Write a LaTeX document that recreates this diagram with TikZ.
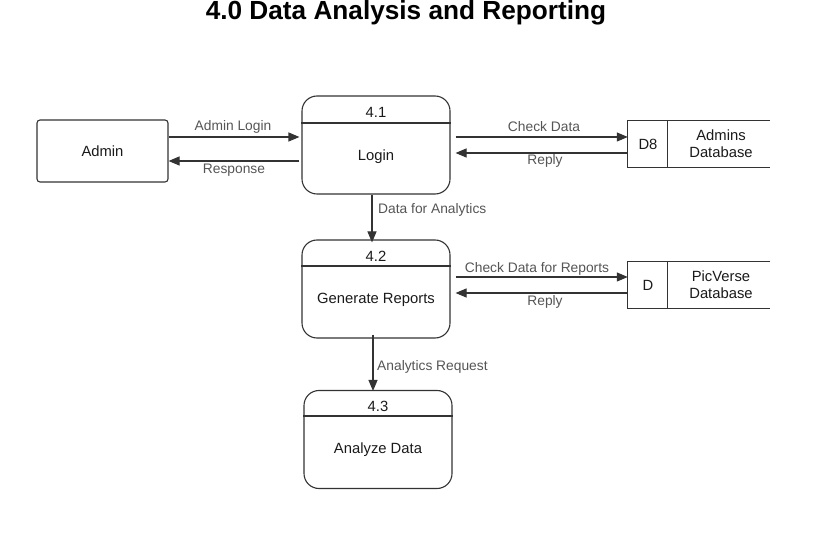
\documentclass[tikz,border=0pt]{standalone}
\usepackage{fontspec}
\setmainfont{Liberation Sans}
\usetikzlibrary{arrows.meta}
\definecolor{lineC}{HTML}{333333}
\definecolor{labC}{HTML}{555555}
\definecolor{txtC}{HTML}{1A1A1A}
\tikzset{
  proc/.style={draw=lineC,line width=1.1pt,rounded corners=15pt,minimum width=148pt,minimum height=98pt,inner sep=0pt},
  ent/.style={draw=lineC,line width=1.1pt,rounded corners=3pt,minimum width=131pt,minimum height=62pt,inner sep=0pt,font=\fontsize{14.8}{17}\selectfont,text=txtC},
  store/.style={minimum width=142pt,minimum height=46pt,inner sep=0pt},
  ptext/.style={font=\fontsize{14.8}{17}\selectfont,text=txtC,align=center,inner sep=0pt},
  lab/.style={font=\fontsize{13.8}{16}\selectfont,text=labC,inner sep=0pt},
  flow/.style={draw=lineC,line width=1.1pt,-{Triangle[length=11pt,width=9pt]}},
  div/.style={draw=lineC,line width=1.1pt}
}
\begin{document}
\begin{tikzpicture}[x=1pt,y=-1pt]
\useasboundingbox (0,0) rectangle (819,534);
\node[font=\bfseries\fontsize{26.2}{30}\selectfont,anchor=base,inner sep=0pt] (title) at (406,19.5) {4.0 Data Analysis and Reporting};

% Admin
\node[ent] (admin) at (102.5,151) {Admin};

% Process 4.1
\node[proc] (p1) at (376,145) {};
\draw[div] (p1.west |- 0,123) -- (p1.east |- 0,123);
\node[ptext] (n1) at (376,112) {4.1};
\node[ptext] (t1) at (376,157) {Login};

% Process 4.2
\node[proc] (p2) at (376,289) {};
\draw[div] (p2.west |- 0,266) -- (p2.east |- 0,266);
\node[ptext] (n2) at (376,256) {4.2};
\node[ptext] (t2) at (376,300) {Generate Reports};

% Process 4.3
\node[proc] (p3) at (378,439.5) {};
\draw[div] (p3.west |- 0,416) -- (p3.east |- 0,416);
\node[ptext] (n3) at (378,406) {4.3};
\node[ptext] (t3) at (378,450) {Analyze Data};

% Store D8
\node[store] (s1) at (699,144) {};
\draw[div] (s1.north east) -- (s1.north west) -- (s1.south west) -- (s1.south east);
\draw[div] (s1.north west) ++(40,0) coordinate (s1d) -- (s1d |- s1.south);
\node[ptext] (s1id) at (648,144) {D8};
\node[ptext] (s1t) at (721,144) {Admins\\Database};

% Store D
\node[store] (s2) at (699,285) {};
\draw[div] (s2.north east) -- (s2.north west) -- (s2.south west) -- (s2.south east);
\draw[div] (s2.north west) ++(40,0) coordinate (s2d) -- (s2d |- s2.south);
\node[ptext] (s2id) at (648,285) {D};
\node[ptext] (s2t) at (721,285) {PicVerse\\Database};

% Flows Admin <-> Login
\draw[flow] (admin.east |- 0,137) -- ([xshift=-2pt]p1.west |- 0,137);
\node[lab] (l1) at (233,127) {Admin Login};
\draw[flow] ([xshift=-2pt]p1.west |- 0,161) -- (admin.east |- 0,161);
\node[lab] (l2) at (234,170) {Response};

% Login <-> D8
\draw[flow] ([xshift=5pt]p1.east |- 0,137) -- (s1.west |- 0,137);
\node[lab] (l3) at (544,127) {Check Data};
\draw[flow] (s1.west |- 0,153) -- ([xshift=5pt]p1.east |- 0,153);
\node[lab] (l4) at (545,161) {Reply};

% Login -> 4.2
\draw[flow] (p1.south -| 372,0) -- ([yshift=-3pt]p2.north -| 372,0);
\node[lab,anchor=west] (l5) at (378,210) {Data for Analytics};

% 4.2 <-> D
\draw[flow] ([xshift=5pt]p2.east |- 0,277) -- (s2.west |- 0,277);
\node[lab] (l6) at (537,269) {Check Data for Reports};
\draw[flow] (s2.west |- 0,293) -- ([xshift=5pt]p2.east |- 0,293);
\node[lab] (l7) at (545,302) {Reply};

% 4.2 -> 4.3
\draw[flow] ([yshift=4pt]p2.south -| 373,0) -- ([yshift=-1pt]p3.north -| 373,0);
\node[lab,anchor=west] (l8) at (377,367) {Analytics Request};
\end{tikzpicture}
\end{document}
